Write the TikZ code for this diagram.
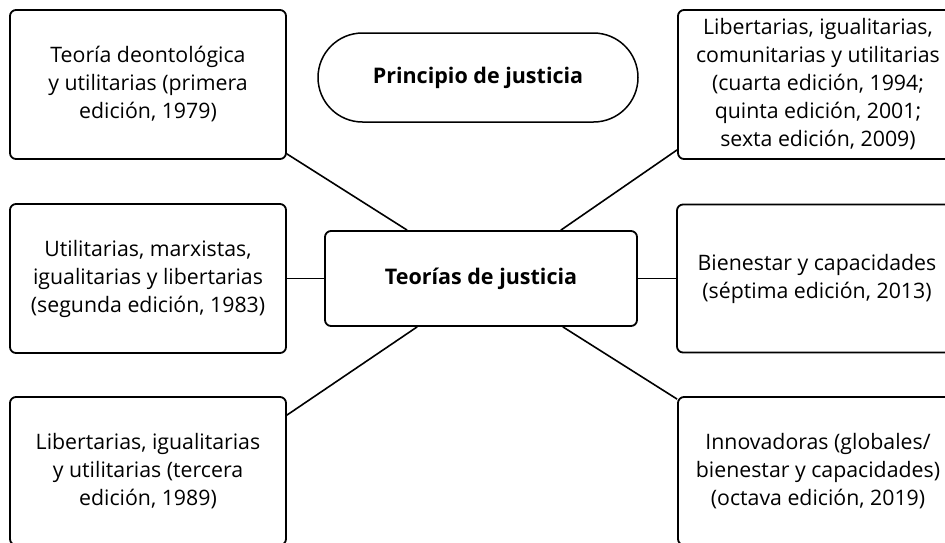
\documentclass[tikz,border=0pt]{standalone}
\usepackage{fontspec}
\setmainfont{Open Sans}
\usetikzlibrary{shapes.misc}
\begin{document}
\begin{tikzpicture}[x=1pt,y=1pt,
  box/.style={draw=black,line width=1.8pt,rounded corners=6pt,inner sep=0pt,
    align=center,font=\fontsize{21.3}{28}\selectfont},
  pill/.style={draw=black,line width=1.5pt,rounded rectangle,inner sep=0pt,
    minimum width=320pt,minimum height=89pt,font=\bfseries\fontsize{21.5}{26}\selectfont},
  link/.style={line width=1.6pt}]
\clip (0,0) rectangle (945,-542);
\fill[white] (0,0) rectangle (945,-542);
\node[box,minimum width=276pt,minimum height=149pt] (tl) at (148,-84.5)
  {Teoría deontológica\\y utilitarias (primera\\edición, 1979)};
\node[box,minimum width=280pt,minimum height=149pt] (tr) at (818,-84.5)
  {Libertarias, igualitarias,\\comunitarias y utilitarias\\(cuarta edición, 1994;\\quinta edición, 2001;\\sexta edición, 2009)};
\node[box,minimum width=276pt,minimum height=149pt] (ml) at (148,-278.5)
  {Utilitarias, marxistas,\\igualitarias y libertarias\\(segunda edición, 1983)};
\node[box,minimum width=280pt,minimum height=148pt] (mr) at (817,-278.5)
  {Bienestar y capacidades\\(séptima edición, 2013)};
\node[box,minimum width=276pt,minimum height=148pt] (bl) at (148,-471)
  {Libertarias, igualitarias\\y utilitarias (tercera\\edición, 1989)};
\node[box,minimum width=280pt,minimum height=148pt] (br) at (818,-471)
  {Innovadoras (globales/\\bienestar y capacidades)\\(octava edición, 2019)};
\node[box,font=\bfseries\fontsize{21.5}{26}\selectfont,minimum width=312pt,minimum height=95pt] (c) at (481,-278.5)
  {Teorías de justicia};
\node[pill] (p) at (478,-77.5) {Principio de justicia};
\draw[link] ([yshift=6pt]tl.south east) -- ([xshift=83pt]c.north west);
\draw[link] ([xshift=-77pt]c.north east) -- ([yshift=10pt]tr.south west);
\draw[link] (ml.east) -- (c.west);
\draw[link] (c.east) -- (mr.west);
\draw[link] ([xshift=93pt]c.south west) -- ([yshift=-19pt]bl.north east);
\draw[link] ([xshift=-75pt]c.south east) -- ([yshift=-3pt]br.north west);
\end{tikzpicture}
\end{document}
